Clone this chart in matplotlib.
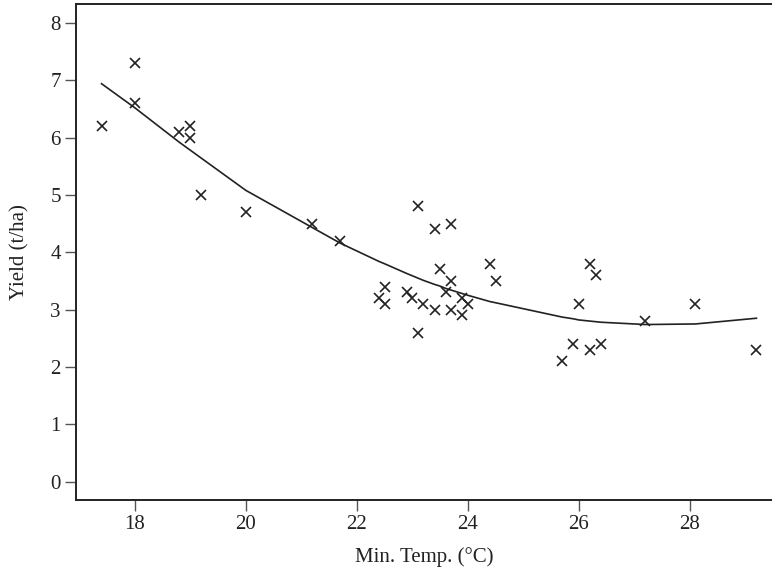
import matplotlib
matplotlib.use("Agg")
import matplotlib.pyplot as plt

# observed points: min temperature (°C) vs yield (t/ha)
min_temp = [17.4, 18.0, 18.0, 18.8, 19.0, 19.0, 19.2, 20.0, 21.2, 21.7,
            22.4, 22.5, 22.5, 22.9, 23.0, 23.1, 23.1, 23.2, 23.4, 23.4,
            23.5, 23.6, 23.7, 23.7, 23.7, 23.9, 23.9, 24.0, 24.4, 24.5,
            25.7, 25.9, 26.0, 26.2, 26.2, 26.3, 26.4, 27.2, 28.1, 29.2]
yield_t = [6.2, 7.3, 6.6, 6.1, 6.2, 6.0, 5.0, 4.7, 4.5, 4.2,
           3.2, 3.4, 3.1, 3.3, 3.2, 4.8, 2.6, 3.1, 4.4, 3.0,
           3.7, 3.3, 4.5, 3.5, 3.0, 3.2, 2.9, 3.1, 3.8, 3.5,
           2.1, 2.4, 3.1, 3.8, 2.3, 3.6, 2.4, 2.8, 3.1, 2.3]

# fitted curve
curve_x = [17.4, 18.0, 18.8, 19.0, 19.2, 20.0, 21.2, 21.7, 22.4, 22.5,
           22.9, 23.0, 23.1, 23.2, 23.4, 23.5, 23.6, 23.7, 23.9, 24.0,
           24.4, 24.5, 25.7, 25.9, 26.0, 26.2, 26.3, 26.4, 27.2, 28.1, 29.2]
curve_y = [6.94, 6.52, 5.92, 5.78, 5.64, 5.08, 4.43, 4.16, 3.84, 3.80,
           3.63, 3.59, 3.55, 3.51, 3.44, 3.41, 3.37, 3.34, 3.28, 3.25,
           3.14, 3.12, 2.87, 2.84, 2.82, 2.80, 2.79, 2.78, 2.74, 2.75, 2.85]

plt.rcParams['font.family'] = ['Liberation Serif', 'DejaVu Serif']
ink = '#222222'

fig = plt.figure(figsize=(7.72, 5.72), dpi=100)
ax = fig.add_axes([76 / 772, 72 / 572, 1 - 76 / 772, 496 / 572])

ax.plot(curve_x, curve_y, color=ink, lw=1.2)
ax.plot(min_temp, yield_t, 'x', color=ink, ms=7.5, mew=1.2)

ax.set_xlim(16.94, 29.48)
ax.set_ylim(-0.32, 8.33)
ax.set_xticks([18, 20, 22, 24, 26, 28])
ax.set_yticks(range(0, 9))

ax.spines['right'].set_visible(False)
for s in ['left', 'bottom', 'top']:
    ax.spines[s].set_color(ink)
    ax.spines[s].set_linewidth(1.4)

ax.tick_params(direction='out', length=8, width=1, color='#555555',
               labelsize=15, labelcolor=ink, pad=3)

ax.set_xlabel('Min. Temp. (°C)', fontsize=15, color=ink, labelpad=9)
ax.set_ylabel('Yield (t/ha)', fontsize=15, color=ink, labelpad=15)

fig.savefig('out.png', dpi=100)
